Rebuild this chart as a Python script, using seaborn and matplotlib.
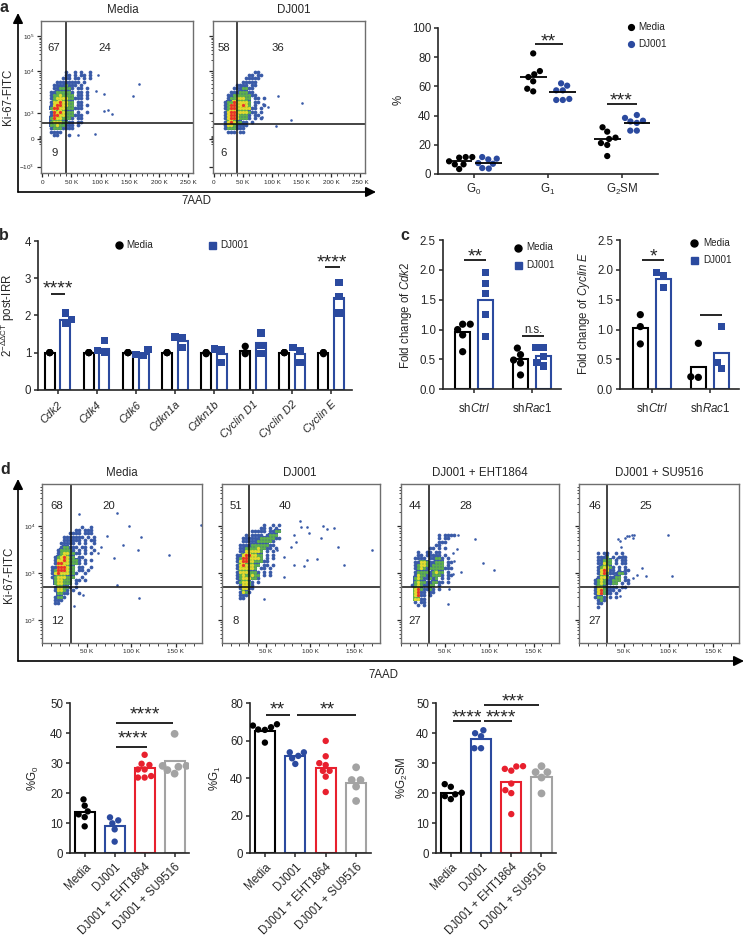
import numpy as np
import pandas as pd
import matplotlib
matplotlib.use("Agg")
import matplotlib.pyplot as plt
import seaborn as sns

sns.set_style("ticks")
plt.rcParams["font.family"] = ["Liberation Sans", "DejaVu Sans"]
plt.rcParams["mathtext.fontset"] = "custom"
plt.rcParams["mathtext.rm"] = "Liberation Sans"
plt.rcParams["mathtext.it"] = "Liberation Sans:italic"
plt.rcParams["mathtext.default"] = "regular"

W, H = 750, 936
BLACK = "#000000"
BLUE = "#2B4A9F"
RED = "#E8202E"
GREY = "#A3A3A3"
LEVEL_COLORS = {"1": "#3A5BA8", "2": "#5FB04C", "3": "#E3D92E", "4": "#E8342A"}
UNDER_COLORS = {"2": "#3A5BA8", "3": "#5FB04C", "4": "#E3D92E"}

# ---------- flow cytometry density cells
# 1 blue, 2 green, 3 yellow, 4 red, . empty
a_media_grid = [
    "......1..1.1..1.",
    "......11.1.11.1.",
    ".....111.11.1.1.",
    "...11111111.1...",
    "..11112111.1....",
    "..1122221.11.1..",
    ".11222221.11.1..",
    ".12232222.11.1..",
    ".12333322111.1..",
    ".13343322.11....",
    ".13443322.11.1..",
    ".24433222111....",
    ".14343222.1..1..",
    ".14433222111....",
    ".24332221.11....",
    ".23332211.11....",
    ".22322111.1.....",
    ".12221111.......",
    ".1111...........",
    "..11...1........",
]
a_dj_grid = [
    "...........11...",
    ".........11.11..",
    "........11111...",
    ".......11111....",
    ".....1111.11....",
    "....1112211.....",
    "...11122211.....",
    "..1122222211....",
    "..12233322.11.1.",
    ".122433332.11...",
    ".124433432.1..1.",
    ".12443333311.1..",
    ".13443333211.1..",
    ".134432221.11...",
    ".134432221.1.1..",
    ".13432211.1.....",
    ".13321111.......",
    ".1222111........",
    "..111.11........",
]
d_media_grid = [
    "...........1..1.",
    ".........11.111.",
    ".......1111.111.",
    ".....1111111.1.1",
    ".....111111.1.11",
    "....11111.1.1..1",
    "....122111.11.1.",
    "...122221.1.1..1",
    "...12332211.1.1.",
    "..1234322.11....",
    "..133432221.1.1.",
    "..144332221.1...",
    ".11444322.11..1.",
    ".12444322.11.1..",
    ".134333221..1...",
    ".12333222..1....",
    "..233222.11.1...",
    "..233222.1......",
    "..133221.1......",
    "..13321.1.......",
    "...2211...1.....",
    "..1221..........",
    "..111...........",
    "..11............",
]
d_dj_grid = [
    "..........1..1.1",
    ".........11.1.1.",
    "......11111.1122",
    "....1.1111.1222.",
    "...1111112222211",
    "...11111222221..",
    "..111122222211..",
    "..11222232211.1.",
    "..11333332.1.1..",
    ".113443322.1.1..",
    ".124433332.1.1..",
    ".13443322211....",
    ".13433322.11.1..",
    ".1333332.11.1...",
    ".13332221.1.1...",
    ".12322322.1.1...",
    ".12333221.......",
    ".123321.1.......",
    "..13321.........",
    "..13311.........",
    "..1321..........",
    "..111...........",
    "..11............",
]
d_eht_grid = [
    "..........1.1111",
    "..........1.11..",
    "..........111...",
    ".........11.....",
    ".......11.1.1...",
    "...1..11.11.....",
    "...11.11111.1...",
    "..1111.11221.1..",
    "..1133211222.11.",
    "..1233212222.1..",
    "..1232122222111.",
    "..1222212322.1..",
    "..1322112221.11.",
    "..23211212.1.1..",
    "..2322112211.1..",
    ".12321122.1.....",
    "..3421121.1.....",
    "..3411.11.......",
    "..3411.1........",
    "..3311..........",
    "..1.11..........",
    "...1.1..........",
]
d_su_grid = [
    "..1.11..1.1.....",
    "..1112.1.111....",
    "..11222.1.11....",
    "..11322.1.11....",
    "..123321.1.1....",
    "..134311.1.11...",
    "..1342111221....",
    "..13321122.1....",
    ".123211222.11...",
    ".12321122.1.1...",
    ".13321111.11....",
    ".1342111.1......",
    ".134211.1.......",
    ".1221.1.1.......",
    "..121...........",
    "..11............",
    "..1.............",
]

# sparse events outside the clouds: 7AAD in thousands, Ki-67 channel
a_media_x = [96, 92, 106, 166, 156, 106, 113, 120, 90, 61, 259]
a_media_y = [2.34, 1.95, 1.87, 2.11, 1.83, 1.48, 1.5, 1.4, 0.94, 0.91, 1.9]
a_dj_x = [110, 150, 131, 106, 83, 92, 84]
a_dj_y = [1.84, 1.67, 1.26, 1.13, 1.33, 1.56, 1.64]
d_media_x = [41, 84, 97, 111, 108, 142, 178, 109, 84, 81, 91, 73, 36, 66, 62, 46]
d_media_y = [4.26, 4.27, 4.01, 3.76, 3.48, 3.39, 4.03, 2.46, 2.74, 3.32, 3.59, 3.79, 2.30, 3.56, 3.42, 2.53]
d_dj_x = [89, 90, 97, 115, 119, 127, 99, 112, 131, 170, 138, 93, 97, 108, 82, 48, 84, 78, 70, 82, 70, 63]
d_dj_y = [4.10, 3.99, 3.99, 4.01, 3.94, 3.95, 3.86, 3.74, 3.56, 3.48, 3.16, 3.14, 3.28, 3.29, 3.81, 2.44,
          3.67, 3.56, 3.35, 3.17, 2.92, 3.49]
d_eht_x = [65, 84, 93, 105, 53, 55, 59, 68, 64, 59, 60]
d_eht_y = [3.81, 3.72, 3.21, 3.06, 2.34, 2.65, 2.98, 3.01, 3.51, 3.42, 3.26]
d_su_x = [51, 53, 56, 59, 61, 60, 43, 45, 47, 49, 42, 99, 70, 75, 104, 65, 60, 45]
d_su_y = [3.74, 3.78, 3.79, 3.80, 3.81, 3.74, 3.72, 3.69, 3.56, 3.37, 3.31, 3.81, 3.10, 2.94, 2.94, 2.96, 2.90, 2.51]

# ---------- panel a, cell cycle scatter
phases = ["G$_0$", "G$_1$", "G$_2$SM"]
a_media = [[11.2, 11.6, 11.6, 8.7, 6.6, 6.6, 3.4],
           [82.6, 70.5, 68.3, 66.4, 63.5, 58.4, 56.6],
           [32, 29, 24, 24.9, 21.2, 19.9, 12.3]]
a_dj001 = [[10.5, 11.6, 10, 7, 4.1, 3.7, 7.5],
           [62.1, 60.5, 57.3, 57.3, 51.4, 50.7, 50.7],
           [40.4, 38.4, 36.5, 36, 35, 29.7, 29.7]]
a_media_mid = [8.7, 66.4, 23.8]
a_dj001_mid = [7.5, 56, 35]

# ---------- panel b
genes = ["Cdk2", "Cdk4", "Cdk6", "Cdkn1a", "Cdkn1b", "Cyclin D1", "Cyclin D2", "Cyclin E"]
b_media_bar = [1, 1, 1, 1, 0.98, 1.03, 1, 0.98]
b_dj001_bar = [1.87, 1.1, 0.97, 1.32, 0.97, 1.25, 0.97, 2.48]
b_media = [[1, 1, 1], [1, 1, 1], [1, 1, 1], [1, 1, 1], [0.97, 1, 1], [1.17, 0.97, 1], [1, 1, 1], [1, 0.97, 1]]
b_dj001 = [[1.8, 2.07, 1.9], [1.0, 1.32, 1.05], [0.92, 1.08, 0.95], [1.42, 1.13, 1.41],
           [1.1, 1.07, 0.74], [0.97, 1.53, 1.2], [1.13, 1.05, 0.74], [2.88, 2.52, 2.07]]

# ---------- panel c
sh_labels = ["sh$\\mathit{Ctrl}$", "sh$\\mathit{Rac1}$"]
c1_media_bar = [0.96, 0.5]
c1_dj001_bar = [1.5, 0.56]
c1_media = [[1.09, 1.09, 1.0, 0.91, 0.63], [0.69, 0.58, 0.49, 0.44, 0.24]]
c1_dj001 = [[1.95, 1.77, 1.6, 1.25, 0.88], [0.7, 0.7, 0.55, 0.45, 0.39]]
c2_media_bar = [1.03, 0.38]
c2_dj001_bar = [1.84, 0.6]
c2_media = [[1.25, 1.05, 0.76], [0.77, 0.2, 0.21]]
c2_dj001 = [[1.95, 1.9, 1.7], [1.05, 0.45, 0.35]]

# ---------- panel d bars
treatments = ["Media", "DJ001", "DJ001 + EHT1864", "DJ001 + SU9516"]
g0_bar = [13.7, 9, 28.3, 30.8]
g0_pts = [[17.9, 15.8, 13.9, 12.9, 12, 8.9],
          [11.9, 10.9, 9.9, 7.9, 3.8],
          [32.8, 29.4, 29.8, 27.9, 27.9, 25.7, 25.2, 25.2],
          [39.8, 29.1, 29.1, 28.8, 27.7, 26.5]]
g1_bar = [65.2, 51.7, 45.3, 37.3]
g1_pts = [[68.1, 67.2, 68.8, 66, 65.8, 59],
          [53.8, 53.8, 51.9, 50.6, 47.6],
          [59.9, 51.7, 48, 47, 43.9, 43.9, 40.8, 32.6],
          [45.8, 39, 39, 35.5, 27.8]]
g2_bar = [20.1, 38, 23.8, 25.5]
g2_pts = [[23, 22.1, 20.1, 19.6, 19, 18],
          [41, 40, 39, 35, 35],
          [29, 28.9, 28.1, 27.5, 23.2, 21, 20, 13],
          [29, 27, 27, 25.2, 19.9]]

fig = plt.figure(figsize=(W / 100, H / 100), dpi=100)


def px_axes(left, top, right, bottom):
    return fig.add_axes([left / W, 1 - bottom / H, (right - left) / W, (bottom - top) / H])


over = fig.add_axes([0, 0, 1, 1], zorder=10)
over.set_xlim(0, W)
over.set_ylim(H, 0)
over.axis("off")
over.patch.set_alpha(0)


def label(x, y, s, size=8.3, rot=0, **kw):
    over.text(x, y, s, fontsize=size, rotation=rot, ha="center", va="center", **kw)


def sig(x0, x1, y, stars=None, sx=None, sy=None):
    over.plot([x0, x1], [y, y], color="k", lw=1.2, solid_capstyle="butt")
    if stars:
        # asterisks sit high in the em box, so the baseline goes under the wanted centre
        over.text(sx, sy + 8, stars, fontsize=14, ha="center", va="baseline")


def long_form(cats, groups, values):
    rows = []
    for g, per_cat in zip(groups, values):
        for c, vals in zip(cats, per_cat):
            for v in np.atleast_1d(vals):
                rows.append({"cat": c, "group": g, "val": float(v)})
    return pd.DataFrame(rows)


def style_axis(ax):
    sns.despine(ax=ax)
    ax.spines["left"].set_linewidth(1.2)
    ax.spines["bottom"].set_linewidth(1.2)
    ax.tick_params(width=1.1, length=3, labelsize=8.3, pad=2)
    ax.set_xlabel("")
    ax.set_ylabel("")


def flow_panel(rect, xlim, ylim, grid, x0, dx, ytop, dy, out_x, out_y, vline, hline, cell, xticks, yticks, ylabels,
               yminor):
    ax = px_axes(*rect)
    ax.set_xlim(*xlim)
    ax.set_ylim(*ylim)
    cells = pd.DataFrame(
        [{"x": x0 + j * dx, "y": ytop - i * dy, "level": ch}
         for i, row in enumerate(grid) for j, ch in enumerate(row) if ch != "."]
    )
    # each hot cell sits on the next colder colour so the cloud stays speckled
    for level in ["2", "3", "4"]:
        sub = cells[cells["level"] == level]
        sns.scatterplot(data=sub, x="x", y="y", marker="s", s=cell, color=UNDER_COLORS[level], linewidth=0, ax=ax,
                        legend=False)
    for level in ["1", "2", "3", "4"]:
        sub = cells[cells["level"] == level]
        size = cell * 0.8 if level == "1" else cell * 0.62
        sns.scatterplot(data=sub, x="x", y="y", marker="o", s=size, color=LEVEL_COLORS[level], linewidth=0, ax=ax,
                        legend=False)
    sns.scatterplot(x=out_x, y=out_y, marker="o", s=3.5, color=LEVEL_COLORS["1"], linewidth=0, ax=ax, legend=False)
    ax.axvline(vline, color="#111111", lw=1.1)
    ax.axhline(hline, color="#111111", lw=1.1)
    for s in ax.spines.values():
        s.set_color("#6E6E6E")
        s.set_linewidth(1.0)
    ax.set_xlabel("")
    ax.set_ylabel("")
    ax.set_xticks(xticks)
    ax.set_xticklabels([("0" if v == 0 else f"{v} K") for v in xticks])
    ax.set_xticks(np.arange(0, xlim[1], 10), minor=True)
    ax.set_yticks(yticks)
    ax.set_yticklabels(ylabels)
    ax.set_yticks(yminor, minor=True)
    ax.tick_params(axis="both", which="major", length=3.2, width=0.9, labelsize=4.6, pad=1.5)
    ax.tick_params(axis="both", which="minor", length=1.8, width=0.6)
    return ax


# ---------- flow plots
a_yticks = [3.26, 2.43, 1.43, 0.80, 0.15]
a_ylabels = ["10$^5$", "10$^4$", "10$^3$", "0", "\u221210$^3$"]
a_minor = [1.43 + np.log10(k) for k in range(2, 10)] + [2.43 + 0.83 * np.log10(k) for k in range(2, 10)] + \
          [0.70, 0.73, 0.76, 0.83, 0.86, 0.89, 1.1, 1.25]
a_xticks = [0, 50, 100, 150, 200, 250]
flow_panel((41, 21, 193, 173), (-2, 258), (0, 3.62), a_media_grid, 10.3, 5.15, 2.41, 0.079, a_media_x, a_media_y,
           40, 1.19, 9, a_xticks, a_yticks, a_ylabels, a_minor)
flow_panel((212.5, 21, 365, 173), (-2, 258), (0, 3.62), a_dj_grid, 14.3, 5.15, 2.41, 0.079, a_dj_x, a_dj_y,
           40, 1.17, 9, a_xticks, a_yticks, ["", "", "", "", ""], a_minor)

d_yticks = [4, 3, 2]
d_ylabels = ["10$^4$", "10$^3$", "10$^2$"]
d_minor = [d + np.log10(k) for d in [1, 2, 3, 4] for k in range(2, 10) if 1.55 < d + np.log10(k) < 4.88]
d_xticks = [50, 100, 150]
d_rects = [(42.3, 484, 201.7, 642.7), (221.7, 484, 380, 642.7), (400.7, 484, 559.3, 642.7), (579.3, 484, 739.3, 642.7)]
d_grids = [d_media_grid, d_dj_grid, d_eht_grid, d_su_grid]
d_x0 = [7.5, 14.2, 9.4, 13.7]
d_ytop = [3.99, 4.03, 3.81, 3.42]
d_out = [(d_media_x, d_media_y), (d_dj_x, d_dj_y), (d_eht_x, d_eht_y), (d_su_x, d_su_y)]
d_vline = [32, 31, 31.5, 31.5]
for i in range(4):
    flow_panel(d_rects[i], (0, 179), (1.51, 4.9), d_grids[i], d_x0[i], 3.4, d_ytop[i], 0.0714, d_out[i][0], d_out[i][1],
               d_vline[i], 2.71, 9, d_xticks, d_yticks, d_ylabels if i == 0 else ["", "", ""], d_minor)

# quadrant numbers
for x, y, s in [(54, 48, "67"), (105, 48, "24"), (55, 153, "9"), (224, 48, "58"), (278, 48, "36"), (224, 153, "6"),
                (57, 506, "68"), (109, 506, "20"), (57, 621, "12"), (236, 506, "51"), (285, 506, "40"), (236, 621, "8"),
                (415, 506, "44"), (466, 506, "28"), (415, 621, "27"), (595, 506, "46"), (646, 506, "25"),
                (595, 621, "27")]:
    label(x, y, s, size=8.2)

for x, y, s in [(123, 10, "Media"), (294, 10, "DJ001"), (122, 473, "Media"), (300, 473, "DJ001"),
                (480, 473, "DJ001 + EHT1864"), (659, 473, "DJ001 + SU9516")]:
    label(x, y, s)
label(8, 97, "Ki-67-FITC", rot=90)
label(9, 575, "Ki-67-FITC", rot=90)
label(196, 201, "7AAD")
label(383, 675, "7AAD")

# big axis arrows
for (x0, y0), (x1, y1) in [((18, 192), (18, 13)), ((18, 192), (376, 192)), ((18, 661), (18, 479)),
                           ((18, 661), (744, 661))]:
    over.annotate("", xy=(x1, y1), xytext=(x0, y0),
                  arrowprops=dict(arrowstyle="-|>,head_width=0.3,head_length=0.6", color="k", lw=1.2,
                                  shrinkA=0, shrinkB=0))

# ---------- panel a scatter
ax = px_axes(438, 28, 658, 174)
ax.set_ylim(0, 100)
ax.set_xlim(-0.486, 2.486)
df_a = long_form(phases, ["Media", "DJ001"], [a_media, a_dj001])
sns.swarmplot(data=df_a, x="cat", y="val", hue="group", hue_order=["Media", "DJ001"], order=phases, dodge=True,
              palette=[BLACK, BLUE], size=4.5, legend=False, warn_thresh=1, ax=ax)
ax.set_xlim(-0.486, 2.486)
ax.set_ylim(0, 100)
for k in range(3):
    ax.hlines(a_media_mid[k], k - 0.2 - 0.18, k - 0.2 + 0.18, color="k", lw=1.3, zorder=5)
    ax.hlines(a_dj001_mid[k], k + 0.2 - 0.18, k + 0.2 + 0.18, color="k", lw=1.3, zorder=5)
ax.set_yticks(range(0, 101, 20))
style_axis(ax)
ax.tick_params(axis="x", pad=3)
label(399, 100, "%", rot=90)
sig(535.3, 563.3, 44, "**", 548.7, 38)
sig(607.3, 636.7, 104, "***", 621, 97)


def group_bars(rect, cats, xlim, ylim, yticks, media_bar, dj_bar, media_pts, dj_pts, size, stack_media=False):
    ax = px_axes(*rect)
    groups = ["Media", "DJ001"]
    bars = pd.DataFrame({"cat": list(cats) * 2, "group": ["Media"] * len(cats) + ["DJ001"] * len(cats),
                         "val": list(media_bar) + list(dj_bar)})
    sns.barplot(data=bars, x="cat", y="val", hue="group", hue_order=groups, order=cats, palette=[BLACK, BLUE],
                fill=False, width=0.8, gap=0.36, linewidth=1.5, errorbar=None, legend=False, ax=ax)
    ax.set_xlim(*xlim)
    ax.set_ylim(*ylim)
    pts = long_form(cats, groups, [media_pts, dj_pts])
    for g, marker in zip(groups, ["o", "s"]):
        sub = pts[pts["group"] == g]
        if stack_media and g == "Media":
            # controls are normalised to 1, the points lie on top of each other
            sns.stripplot(data=sub, x="cat", y="val", hue="group", hue_order=groups, order=cats, dodge=True,
                          jitter=False, palette=[BLACK, BLUE], marker=marker, size=size, legend=False, ax=ax)
        else:
            sns.swarmplot(data=sub, x="cat", y="val", hue="group", hue_order=groups, order=cats, dodge=True,
                          palette=[BLACK, BLUE], marker=marker, size=size, legend=False, warn_thresh=1, ax=ax)
    ax.set_xlim(*xlim)
    ax.set_ylim(*ylim)
    ax.set_yticks(yticks)
    style_axis(ax)
    return ax


# ---------- panel b
ax = group_bars((38, 241.3, 352, 389.7), genes, (-0.5, 7.53), (0, 4), range(5), b_media_bar, b_dj001_bar, b_media,
                b_dj001, 5.2, stack_media=True)
ax.set_xticks(range(8))
ax.set_xticklabels(genes, rotation=45, ha="right", rotation_mode="anchor", style="italic", fontsize=8)
ax.tick_params(axis="x", pad=4)
label(8, 315, "2$^{-\\Delta\\Delta CT}$ post-IRR", rot=90)
sig(50.7, 65, 294.3, "****", 57.7, 285)
sig(325, 340, 267, "****", 332, 259)

# ---------- panel c
ax = group_bars((442.7, 240, 561, 389.3), sh_labels, (-0.545, 1.5), (0, 2.5), [0, 0.5, 1, 1.5, 2, 2.5], c1_media_bar,
                c1_dj001_bar, c1_media, c1_dj001, 5.2)
ax.set_yticklabels(["0.0", "0.5", "1.0", "1.5", "2.0", "2.5"])
ax.tick_params(axis="x", pad=6)
label(406, 315, "Fold change of $\\mathit{Cdk2}$", rot=90)
sig(464.3, 485.7, 259.7, "**", 475.7, 253)
sig(522.3, 544, 336.3)
label(533, 330, "n.s.")

ax = group_bars((620, 240, 739, 389.3), sh_labels, (-0.55, 1.5), (0, 2.5), [0, 0.5, 1, 1.5, 2, 2.5], c2_media_bar,
                c2_dj001_bar, c2_media, c2_dj001, 5.2)
ax.set_yticklabels(["0.0", "0.5", "1.0", "1.5", "2.0", "2.5"])
ax.tick_params(axis="x", pad=6)
label(584, 313, "Fold change of $\\mathit{Cyclin\\ E}$", rot=90)
sig(642.3, 664.3, 259.7, "*", 653, 253)
sig(700, 721.7, 314.7)


# ---------- panel d bars
def treatment_bars(rect, ylim, yticks, bar, pts):
    ax = px_axes(*rect)
    colors = [BLACK, BLUE, RED, GREY]
    sizes = [4.6, 4.6, 4.6, 5.6]
    bars = pd.DataFrame({"cat": treatments, "val": bar})
    sns.barplot(data=bars, x="cat", y="val", hue="cat", order=treatments, hue_order=treatments, palette=colors,
                fill=False, width=0.67, linewidth=1.5, errorbar=None, legend=False, ax=ax)
    ax.set_xlim(-0.49, 3.48)
    ax.set_ylim(*ylim)
    all_rows = pd.DataFrame([{"cat": c, "val": v} for c, vals in zip(treatments, pts) for v in vals])
    for c, size in zip(treatments, sizes):
        sns.swarmplot(data=all_rows[all_rows["cat"] == c], x="cat", y="val", hue="cat", order=treatments,
                      hue_order=treatments, palette=colors, size=size, legend=False, warn_thresh=1, ax=ax)
    ax.set_xlim(-0.49, 3.48)
    ax.set_ylim(*ylim)
    ax.set_yticks(yticks)
    ax.set_xticks(range(4))
    ax.set_xticklabels(treatments, rotation=45, ha="right", rotation_mode="anchor", fontsize=8)
    style_axis(ax)
    ax.tick_params(axis="x", pad=3)
    return ax


treatment_bars((70, 703.3, 189, 853), (0, 50), range(0, 51, 10), g0_bar, g0_pts)
treatment_bars((250, 703.3, 370.7, 853), (0, 80), range(0, 81, 20), g1_bar, g1_pts)
treatment_bars((436, 703.3, 556, 853), (0, 50), range(0, 51, 10), g2_bar, g2_pts)
label(33, 778, "%G$_0$", rot=90)
label(215, 778, "%G$_1$", rot=90)
label(402, 778, "%G$_2$SM", rot=90)
sig(115.7, 172.7, 723, "****", 145, 711.7)
sig(115.7, 147.3, 747.3, "****", 133.3, 735)
sig(265.7, 290, 714.7, "**", 277.7, 706.7)
sig(297.3, 355.7, 714.7, "**", 327, 706.7)
sig(484.3, 539.3, 705, "***", 512.7, 698.3)
sig(453.3, 481, 721.3, "****", 466.7, 714)
sig(484.3, 511.7, 721.3, "****", 500.7, 714)

# ---------- legends
legend_items = [(631, 27, "o", BLACK, 5.8, 638, "Media"), (631, 44, "o", BLUE, 5.8, 638, "DJ001"),
                (118.5, 245, "o", BLACK, 7, 126, "Media"), (212, 245, "s", BLUE, 7, 220, "DJ001"),
                (518, 247.5, "o", BLACK, 7, 526, "Media"), (518, 265, "s", BLUE, 7, 526, "DJ001"),
                (694, 243, "o", BLACK, 7, 703, "Media"), (694, 260, "s", BLUE, 7, 703, "DJ001")]
for mx, my, m, c, ms, tx, s in legend_items:
    over.plot([mx], [my], marker=m, color=c, markersize=ms * 0.72, linestyle="none")
    over.text(tx, my, s, fontsize=7.1, ha="left", va="center", color="#222222")

# panel letters
for x, y, s in [(4, 7, "a"), (4, 236, "b"), (405, 236, "c"), (5, 469, "d")]:
    over.text(x, y, s, fontsize=11.5, fontweight="bold", ha="center", va="center")

over.set_xlim(0, W)
over.set_ylim(H, 0)
fig.savefig("out.png", dpi=100)
